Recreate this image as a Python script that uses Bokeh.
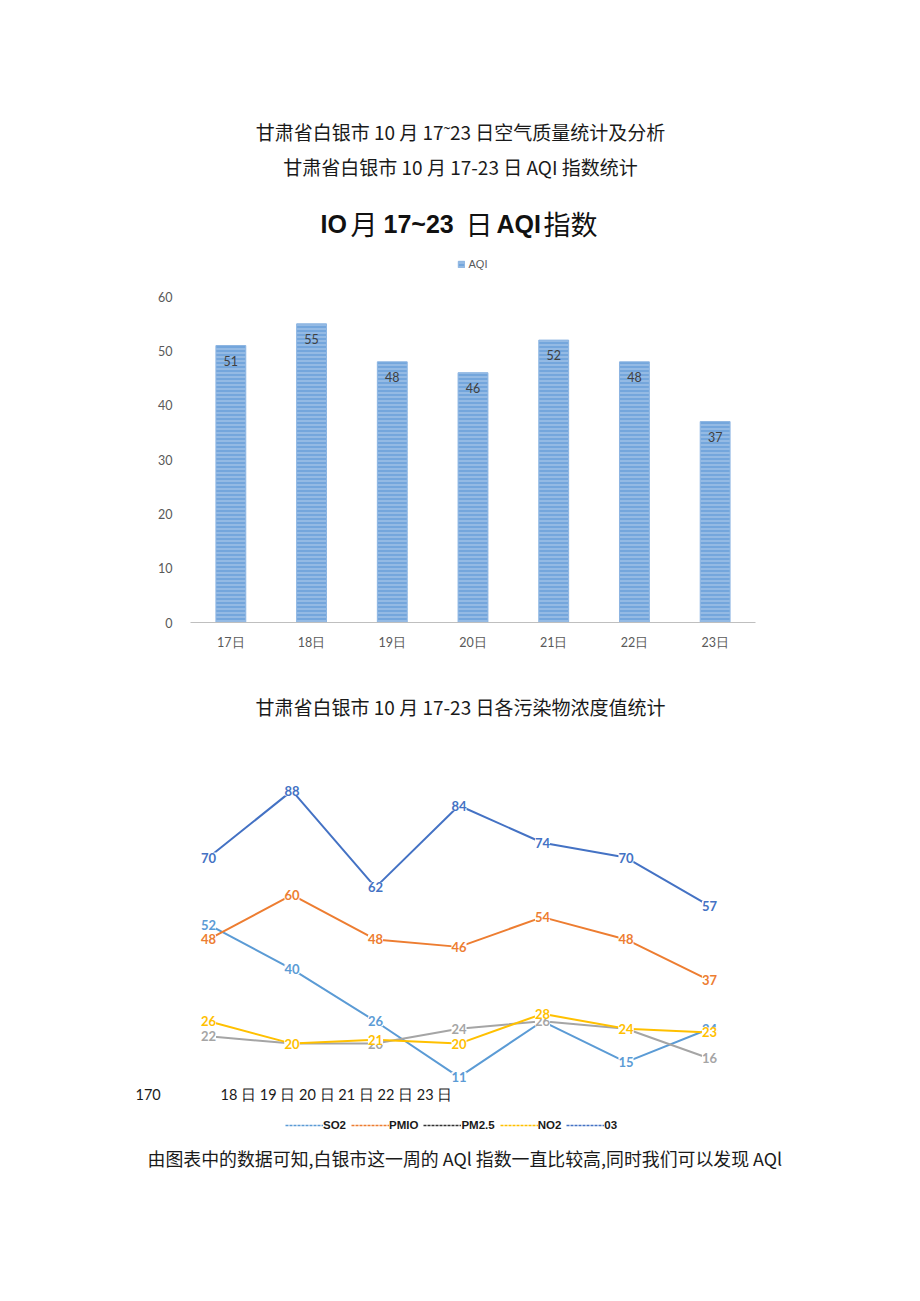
from bokeh.plotting import figure
from bokeh.models import (Range1d, FactorRange, FixedTicker, ColumnDataSource,
                          LabelSet, Label, Legend, LegendItem)
from bokeh.layouts import column
from bokeh.embed import file_html
from bokeh.resources import INLINE
from bokeh.core.properties import value

# ---------------- data ----------------
days = ["17日", "18日", "19日", "20日", "21日", "22日", "23日"]
aqi = [51, 55, 48, 46, 52, 48, 37]
y_ticks = [0, 10, 20, 30, 40, 50, 60]

line_idx = [0, 1, 2, 3, 4, 5, 6]
so2 = [52, 40, 26, 11, 26, 15, 24]
pm10 = [48, 60, 48, 46, 54, 48, 37]
pm25 = [22, 20, 20, 24, 26, 24, 16]
no2 = [26, 20, 21, 20, 28, 24, 23]
o3 = [70, 88, 62, 84, 74, 70, 57]
series_names = ["SO2", "PMIO", "PM2.5", "NO2", "03"]

head1 = "甘肃省白银市 10 月 17˜23 日空气质量统计及分析"
head2 = "甘肃省白银市 10 月 17-23 日 AQI 指数统计"
title_parts = ["IO", "月", "17~23", "日", "AQI", "指数"]   # "IO 月 17~23 日 AQI 指数"
head3 = "甘肃省白银市 10 月 17-23 日各污染物浓度值统计"
axis_text1 = "170"
axis_text2 = "18 日 19 日 20 日 21 日 22 日 23 日"
footer = "由图表中的数据可知,白银市这一周的 AQl 指数一直比较高,同时我们可以发现 AQl"

W = 920
CJK = value("Noto Sans CJK SC")


def text_fig(h):
    p = figure(width=W, height=h, x_range=Range1d(0, W), y_range=Range1d(h, 0),
               output_backend="svg", toolbar_location=None, min_border=0,
               x_axis_location=None, y_axis_location=None)
    p.frame_align = False
    p.grid.visible = False
    p.outline_line_color = None
    return p


# ---------------- header ----------------
f1 = text_fig(250)
f1.text(x=[460], y=[131], text=[head1], text_font=CJK, text_font_size="19px",
        text_align="center", text_baseline="middle", text_color="#1a1a1a")
f1.text(x=[460], y=[166], text=[head2], text_font=CJK, text_font_size="19px",
        text_align="center", text_baseline="middle", text_color="#1a1a1a")
# chart title: bold Latin pieces, light CJK pieces
title_x = [320, 350, 383, 465, 496, 543]
for i, (t, tx) in enumerate(zip(title_parts, title_x)):
    cjk = i % 2 == 1
    f1.text(x=[tx], y=[223], text=[t],
            text_font=CJK if cjk else value("Liberation Sans"),
            text_font_size="27px" if cjk else "25px",
            text_font_style="normal" if cjk else "bold",
            text_align="left", text_baseline="middle", text_color="#111111")

# ---------------- bar chart ----------------
bsrc = ColumnDataSource(dict(day=days, aqi=aqi, lbl=[str(v) for v in aqi]))
f2 = figure(width=W, height=430, x_range=FactorRange(*days), y_range=Range1d(0, 68.5),
            output_backend="svg", toolbar_location=None,
            min_border_left=190, min_border_right=165, min_border_top=0, min_border_bottom=58)
f2.frame_align = False
f2.vbar(x="day", top="aqi", width=0.37, source=bsrc, fill_color="#74A6DC",
        line_color="#8DB5E2", line_width=1,
        hatch_pattern="horizontal_line", hatch_color="white", hatch_alpha=0.45,
        hatch_scale=4, hatch_weight=1, legend_label="AQI")
f2.add_layout(LabelSet(x="day", y="aqi", text="lbl", source=bsrc, y_offset=-15,
                       text_align="center", text_baseline="middle",
                       text_font=value("Lato"), text_font_size="12.5px", text_color="#404040"))
f2.grid.visible = False
f2.outline_line_color = None
f2.yaxis.ticker = FixedTicker(ticks=y_ticks)
f2.yaxis.axis_line_color = None
f2.yaxis.major_tick_line_color = None
f2.yaxis.minor_tick_line_color = None
f2.yaxis.major_label_standoff = 12
f2.xaxis.axis_line_color = "#BFBFBF"
f2.xaxis.axis_line_width = 1
f2.xaxis.major_tick_line_color = None
f2.xaxis.minor_tick_line_color = None
f2.xaxis.major_label_standoff = 6
for ax in (f2.xaxis, f2.yaxis):
    ax.major_label_text_font = "Lato"
    ax.major_label_text_font_size = "12.5px"
    ax.major_label_text_color = "#595959"
lg = f2.legend[0]
lg.location = "top_center"
lg.orientation = "horizontal"
lg.border_line_color = None
lg.background_fill_alpha = 0
lg.glyph_width = 8
lg.glyph_height = 8
lg.label_height = 12
lg.label_standoff = 4
lg.padding = 2
lg.margin = 8
lg.label_text_font = "Liberation Sans"
lg.label_text_font_size = "11px"
lg.label_text_color = "#595959"

# ---------------- middle heading ----------------
f3 = text_fig(80)
f3.text(x=[460], y=[26], text=[head3], text_font=CJK, text_font_size="19px",
        text_align="center", text_baseline="middle", text_color="#1a1a1a")

# ---------------- line chart ----------------
f4 = figure(width=W, height=380, x_range=Range1d(-2.491, 8.527), y_range=Range1d(-6.05, 96.1),
            output_backend="svg", toolbar_location=None, min_border=0,
            x_axis_location=None, y_axis_location=None)
f4.frame_align = False
f4.grid.visible = False
f4.outline_line_color = None

series = [so2, pm10, pm25, no2, o3]
line_colors = ["#5B9BD5", "#ED7D31", "#A5A5A5", "#FFC000", "#4472C4"]
legend_colors = ["#5B9BD5", "#ED7D31", "#333333", "#FFC000", "#4472C4"]
for vals, col in zip(series, line_colors):
    f4.line(line_idx, vals, line_color=col, line_width=2)
for vals, col in zip(series, line_colors):
    src = ColumnDataSource(dict(x=line_idx, y=vals, t=[str(v) for v in vals]))
    f4.add_layout(LabelSet(x="x", y="y", text="t", source=src, text_align="center",
                           text_baseline="middle", text_font=value("Lato"),
                           text_font_size="13px", text_font_style="bold", text_color=col,
                           background_fill_color="white"))

items = []
for name, col in zip(series_names, legend_colors):
    r = f4.line(x=[float("nan")], y=[float("nan")], line_color=col, line_dash="3 1", line_width=1.3)
    items.append(LegendItem(label=name, renderers=[r]))
leg = Legend(items=items, orientation="horizontal", location=(285, 9),
             border_line_color=None, background_fill_alpha=0, padding=0, margin=0,
             glyph_width=38, glyph_height=12, label_height=12, label_standoff=0, spacing=5,
             label_text_font="Liberation Sans", label_text_font_size="11.5px",
             label_text_font_style="bold", label_text_color="#1a1a1a")
f4.add_layout(leg)
f4.add_layout(Label(x=135, y=46, x_units="screen", y_units="screen", text=axis_text1,
                    text_baseline="middle", text_font="Lato", text_font_size="14.5px",
                    text_color="#1a1a1a"))
f4.add_layout(Label(x=220, y=46, x_units="screen", y_units="screen", text=axis_text2,
                    text_baseline="middle", text_font="Lato", text_font_size="14.5px",
                    text_color="#1a1a1a"))

# ---------------- footer ----------------
f5 = text_fig(150)
f5.text(x=[147], y=[17], text=[footer], text_font=CJK, text_font_size="17.9px",
        text_align="left", text_baseline="middle", text_color="#1a1a1a")

layout = column(f1, f2, f3, f4, f5, spacing=0)
open("out.html", "w").write(file_html(layout, INLINE))
